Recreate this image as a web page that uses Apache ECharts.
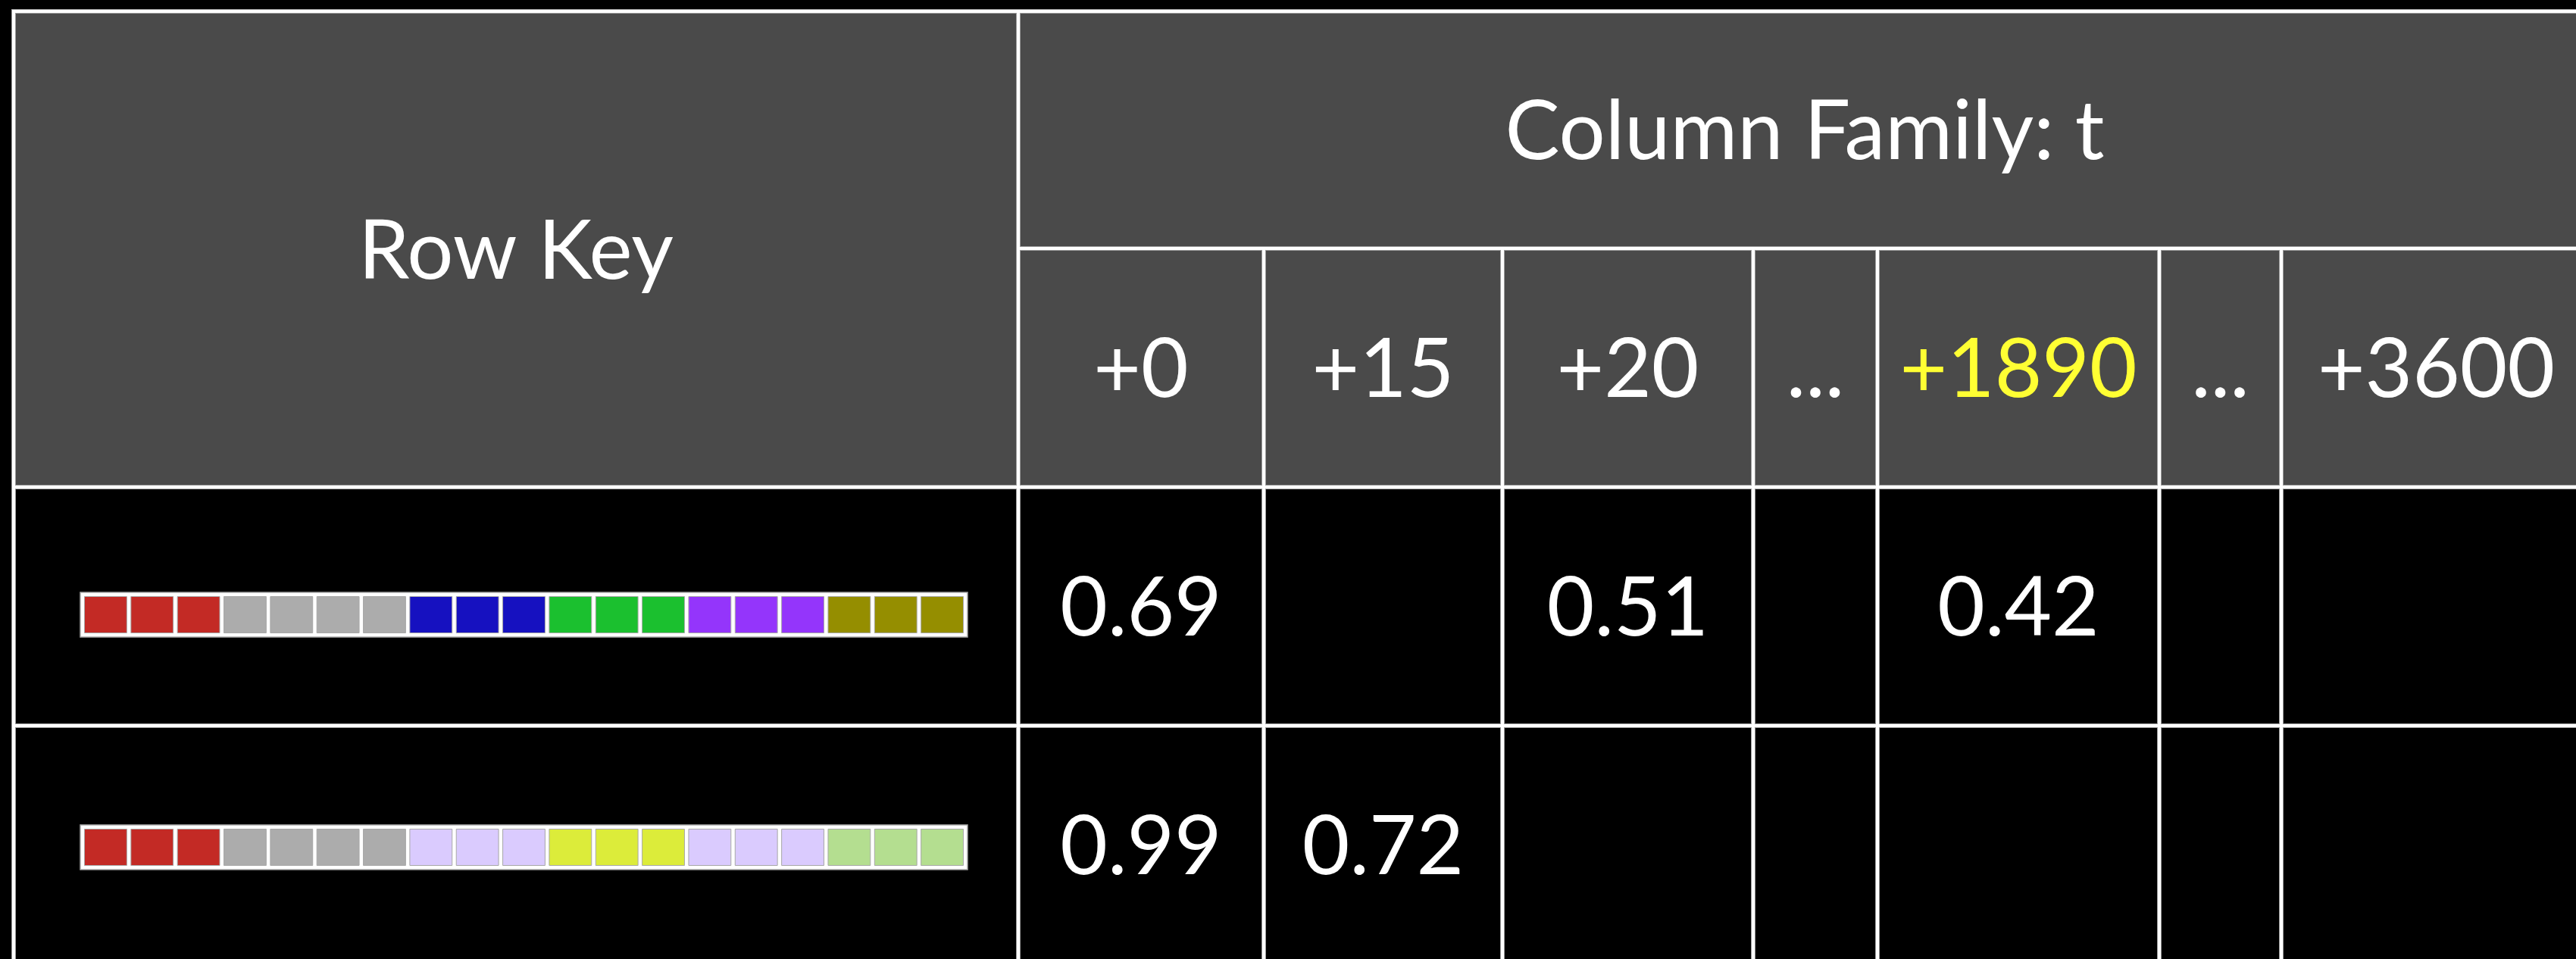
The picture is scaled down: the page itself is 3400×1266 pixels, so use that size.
<!DOCTYPE html>
<html>
<head>
<meta charset="utf-8">
<script src="https://cdn.jsdelivr.net/npm/echarts/dist/echarts.min.js"></script>
<style>
  html, body { margin: 0; padding: 0; background: #000; }
  #table { width: 3400px; height: 1266px; }
</style>
</head>
<body>
<div id="table"></div>
<script>
// 数据
var rowKeyTitle = 'Row Key';
var familyTitle = 'Column Family: t';
var qualifiers = ['+0', '+15', '+20', '...', '+1890', '...', '+3600'];
var highlightQualifier = '+1890';
var row1Values = [0.69, null, 0.51, null, 0.42, null, null];
var row2Values = [0.99, 0.72, null, null, null, null, null];
// row key 色块: [颜色, 个数]
var row1Key = [['#c32a25', 3], ['#acacac', 4], ['#1611c0', 3], ['#1bc02f', 3], ['#9435fb', 3], ['#958e00', 3]];
var row2Key = [['#c32a25', 3], ['#acacac', 4], ['#dacbfe', 3], ['#dcec3a', 3], ['#dacbfe', 3], ['#b4de90', 3]];

// 布局
var tableLeft = 18, tableTop = 15;
var keyColWidth = 1326;
var qualWidths = [324, 315, 331, 164, 372, 161, 409];
var rowHeights = [313, 315, 315, 315];
var headerColor = '#4a4a4a';
var font = 'Lato';
var fontSize = 108;
var textShift = 4;
var keyBar = { left: 88, width: 1171, height: 59, pad: 5.5, gap: 5.5, top: [139, 131] };

var xEdges = [tableLeft, tableLeft + keyColWidth];
qualWidths.forEach(function (w) { xEdges.push(xEdges[xEdges.length - 1] + w); });
var yEdges = [tableTop];
rowHeights.forEach(function (h) { yEdges.push(yEdges[yEdges.length - 1] + h); });
var tableRight = xEdges[xEdges.length - 1];

/* 表格单元 */
var cells = [];
cells.push({ value: [xEdges[0], yEdges[0], xEdges[1], yEdges[2]], text: rowKeyTitle, fill: headerColor });
cells.push({ value: [xEdges[1], yEdges[0], tableRight, yEdges[1]], text: familyTitle, fill: headerColor });
qualifiers.forEach(function (q, i) {
    cells.push({
        value: [xEdges[i + 1], yEdges[1], xEdges[i + 2], yEdges[2]],
        text: q,
        fill: headerColor,
        color: q === highlightQualifier ? '#ffff33' : '#fff'
    });
});
[row1Values, row2Values].forEach(function (vals, r) {
    var y0 = yEdges[r + 2], y1 = yEdges[r + 3];
    cells.push({ value: [xEdges[0], y0, xEdges[1], y1], text: '', fill: '#000' });
    vals.forEach(function (v, i) {
        cells.push({
            value: [xEdges[i + 1], y0, xEdges[i + 2], y1],
            text: v == null ? '' : v.toFixed(2),
            fill: '#000'
        });
    });
});

/* row key 色条 */
var frames = [];
var segments = [];
[row1Key, row2Key].forEach(function (groups, r) {
    var fx0 = xEdges[0] + keyBar.left;
    var fy0 = yEdges[r + 2] + keyBar.top[r];
    frames.push({ value: [fx0, fy0, fx0 + keyBar.width, fy0 + keyBar.height] });
    var n = 0;
    groups.forEach(function (g) { n += g[1]; });
    var pitch = (keyBar.width - 2 * keyBar.pad + keyBar.gap) / n;
    var k = 0;
    groups.forEach(function (g) {
        for (var j = 0; j < g[1]; j++) {
            var sx = fx0 + keyBar.pad + k * pitch;
            segments.push({
                value: [sx, fy0 + keyBar.pad, sx + pitch - keyBar.gap, fy0 + keyBar.height - keyBar.pad],
                itemStyle: { color: g[0] }
            });
            k++;
        }
    });
});

function rectOf(api) {
    var p0 = api.coord([api.value(0), api.value(1)]);
    var p1 = api.coord([api.value(2), api.value(3)]);
    return { x: p0[0], y: p0[1], width: p1[0] - p0[0], height: p1[1] - p0[1] };
}

var chart = echarts.init(document.getElementById('table'));

var option = {
    backgroundColor: '#000',
    animation: false,
    grid: { left: 0, right: 0, top: 0, bottom: 0 },
    xAxis: { type: 'value', min: 0, max: 3400, show: false },
    yAxis: { type: 'value', min: 0, max: 1266, inverse: true, show: false },
    series: [
        {
            name: 'cellFill',
            type: 'custom',
            z: 1,
            encode: { x: [0, 2], y: [1, 3] },
            renderItem: function (params, api) {
                var c = cells[params.dataIndex];
                return {
                    type: 'rect',
                    shape: rectOf(api),
                    style: { fill: c.fill, stroke: '#9c9c9c', lineWidth: 6 }
                };
            },
            data: cells
        },
        {
            name: 'cellLine',
            type: 'custom',
            z: 2,
            encode: { x: [0, 2], y: [1, 3] },
            renderItem: function (params, api) {
                var c = cells[params.dataIndex];
                var r = rectOf(api);
                return {
                    type: 'group',
                    children: [
                        {
                            type: 'rect',
                            shape: r,
                            style: { fill: 'none', stroke: '#fff', lineWidth: 4 }
                        },
                        {
                            type: 'text',
                            style: {
                                text: c.text,
                                x: r.x + r.width / 2,
                                y: r.y + r.height / 2 + textShift,
                                fill: c.color || '#fff',
                                fontFamily: font,
                                fontSize: fontSize,
                                align: 'center',
                                verticalAlign: 'middle'
                            }
                        }
                    ]
                };
            },
            data: cells
        },
        {
            name: 'keyFrame',
            type: 'custom',
            z: 3,
            encode: { x: [0, 2], y: [1, 3] },
            renderItem: function (params, api) {
                return {
                    type: 'rect',
                    shape: rectOf(api),
                    style: { fill: '#fff', stroke: '#a8a8a8', lineWidth: 1.5 }
                };
            },
            data: frames
        },
        {
            name: 'keySegment',
            type: 'custom',
            z: 4,
            encode: { x: [0, 2], y: [1, 3] },
            renderItem: function (params, api) {
                return {
                    type: 'rect',
                    shape: rectOf(api),
                    style: { fill: api.visual('color'), stroke: '#a8a8a8', lineWidth: 1 }
                };
            },
            data: segments
        }
    ]
};

chart.setOption(option);
</script>
</body>
</html>
